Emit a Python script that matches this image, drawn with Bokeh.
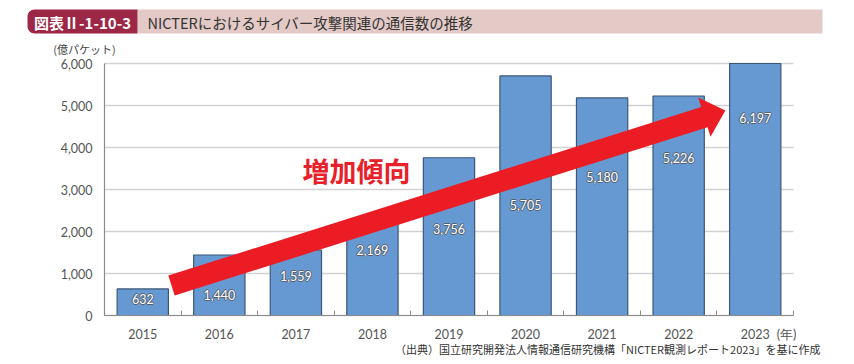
import math
from bokeh.plotting import figure
from bokeh.models import ColumnDataSource, Range1d, FixedTicker, NumeralTickFormatter
from bokeh.core.properties import value
from bokeh.embed import file_html
from bokeh.resources import INLINE

# ---- data ----
years = ["2015", "2016", "2017", "2018", "2019", "2020", "2021", "2022", "2023"]
packets = [632, 1440, 1559, 2169, 3756, 5705, 5180, 5226, 6197]
value_text = ["632", "1,440", "1,559", "2,169", "3,756", "5,705", "5,180", "5,226", "6,197"]
label_y = [400, 480, 950, 1570, 2070, 2640, 3290, 3740, 4710]
y_ticks = [0, 1000, 2000, 3000, 4000, 5000, 6000]

title_tag = "図表Ⅱ-1-10-3"
title_text = "NICTERにおけるサイバー攻撃関連の通信数の推移"
y_unit = "(億パケット)"
x_unit = "(年)"
source_text = "（出典）国立研究開発法人情報通信研究機構「NICTER観測レポート2023」を基に作成"
trend_text = "増加傾向"

JP = "Noto Sans CJK JP"
W, H = 850, 363
FL, FR, FT, FB = 104, 793, 63, 315      # plot area edges on the canvas (px)
n = len(years)
x_pos = [i + 0.5 for i in range(n)]
YMAX = 6000

sx = (FR - FL) / n          # px per category
sy = (FB - FT) / YMAX       # px per packet unit


def dx(px):
    return (px - FL) / sx


def dy(py):
    return (FB - py) / sy


p = figure(width=W, height=H,
           x_range=Range1d(dx(0), dx(W)), y_range=Range1d(dy(H), dy(0)),
           output_backend="svg", toolbar_location=None, min_border=0)
p.outline_line_color = None
p.xgrid.visible = False
p.ygrid.visible = False

# ---- title band ----
p.quad(left=[dx(137)], right=[dx(822)], top=[dy(9)], bottom=[dy(33)],
       fill_color="#E4CAC6", line_color=None)
p.quad(left=[dx(27)], right=[dx(137)], top=[dy(9)], bottom=[dy(33)],
       fill_color="#9C2746", line_color=None, border_radius=(7, 0, 0, 7))
p.text(x=[dx(82)], y=[dy(21.5)], text=[title_tag], text_font=value(JP), text_font_size="15px",
       text_font_style="bold", text_color="white", text_align="center", text_baseline="middle")
p.text(x=[dx(147)], y=[dy(21.5)], text=[title_text], text_font=value(JP),
       text_font_size="14.5px", text_color="#333333", text_align="left",
       text_baseline="middle")
p.text(x=[dx(84)], y=[dy(48)], text=[y_unit], text_font=value(JP), text_font_size="11px",
       text_color="#444444", text_align="center", text_baseline="middle")

# ---- grid lines ----
p.segment(x0=[0] * len(y_ticks), x1=[n] * len(y_ticks), y0=y_ticks, y1=y_ticks,
          line_color="#D2D2D2", line_width=1.5)

# ---- bars (axis maximum clips the tallest bar, as in the original) ----
src = ColumnDataSource(dict(x=x_pos, top=[min(v, YMAX) for v in packets],
                            ly=label_y, txt=value_text))
p.vbar(x="x", top="top", width=0.67, source=src, fill_color="#6699D1",
       line_color="#3B5778", line_width=1.2)

# ---- axes ----
p.yaxis.fixed_location = 0
p.yaxis.bounds = (0, YMAX)
p.yaxis.ticker = FixedTicker(ticks=y_ticks)
p.yaxis.formatter = NumeralTickFormatter(format="0,0")
p.yaxis.major_tick_line_color = None
p.yaxis.minor_tick_line_color = None
p.yaxis.axis_line_color = "#8C8C8C"
p.yaxis.axis_line_width = 1.2
p.yaxis.major_label_standoff = 6

unit_pos = 8.91   # where the "(年)" unit sits on the x axis
p.xaxis.fixed_location = 0
p.xaxis.bounds = (0, n)
p.xaxis.ticker = FixedTicker(ticks=x_pos + [unit_pos], minor_ticks=list(range(n + 1)))
overrides = {x: y for x, y in zip(x_pos, years)}
overrides[unit_pos] = x_unit
p.xaxis.major_label_overrides = overrides
p.xaxis.major_tick_line_color = None
p.xaxis.minor_tick_in = 5
p.xaxis.minor_tick_out = 0
p.xaxis.minor_tick_line_color = "#8C8C8C"
p.xaxis.axis_line_color = "#8C8C8C"
p.xaxis.axis_line_width = 1.2
p.xaxis.major_label_standoff = 5

for ax in (p.xaxis[0], p.yaxis[0]):
    ax.major_label_text_font = "Lato"
    ax.major_label_text_font_size = "12.5px"
    ax.major_label_text_color = "#555555"

# ---- trend arrow ----
arrow_start = (0.875, 714)
arrow_tip = (8.11, 4881)
shaft_w, head_w, head_len = 21, 41, 22
x0, y0 = arrow_start[0] * sx, arrow_start[1] * sy
x1, y1 = arrow_tip[0] * sx, arrow_tip[1] * sy
L = math.hypot(x1 - x0, y1 - y0)
ux, uy = (x1 - x0) / L, (y1 - y0) / L
nx, ny = -uy, ux
bx, by = x1 - ux * head_len, y1 - uy * head_len
pts = [
    (x0 + nx * shaft_w / 2, y0 + ny * shaft_w / 2),
    (bx + nx * shaft_w / 2, by + ny * shaft_w / 2),
    (bx + nx * head_w / 2, by + ny * head_w / 2),
    (x1, y1),
    (bx - nx * head_w / 2, by - ny * head_w / 2),
    (bx - nx * shaft_w / 2, by - ny * shaft_w / 2),
    (x0 - nx * shaft_w / 2, y0 - ny * shaft_w / 2),
]
p.patch([q[0] / sx for q in pts], [q[1] / sy for q in pts], fill_color="#EC1C24",
        line_color=None)

# ---- value labels (white text with dark outline) ----
for ox, oy in [(-1, 0), (1, 0), (0, -1), (0, 1)]:
    p.text(x="x", y="ly", text="txt", source=src, x_offset=ox, y_offset=oy,
           text_align="center", text_baseline="middle", text_color="#55606E",
           text_font=value("Lato"), text_font_size="12.5px")
p.text(x="x", y="ly", text="txt", source=src, text_align="center", text_baseline="middle",
       text_color="white", text_font=value("Lato"), text_font_size="12.5px")

p.text(x=[dx(302)], y=[dy(170)], text=[trend_text], text_font=value(JP), text_font_size="27px",
       text_font_style="bold", text_color="#E8202A", text_baseline="middle")

# ---- source note ----
p.text(x=[dx(820)], y=[dy(348)], text=[source_text], text_font=value(JP),
       text_font_size="11px", text_color="#333333", text_align="right",
       text_baseline="middle")

open("out.html", "w").write(file_html(p, INLINE))
